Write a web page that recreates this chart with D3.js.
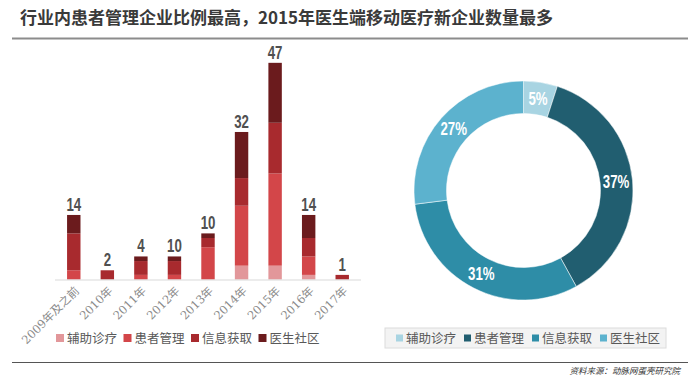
<!DOCTYPE html>
<html lang="zh">
  <head>
    <meta charset='utf-8'>
    <script src='https://d3js.org/d3.v7.min.js'></script>
    <title>移动医疗新企业</title>
    <style>
      body { margin: 0px; background: #fff; }
      svg { display: block; font-family: "Noto Sans CJK SC", sans-serif; }
      .title { fill: #3a3a3a; font-size: 17px; font-weight: bold; }
      .tick-label { fill: #8a8a8a; font-size: 11.5px; font-family: "DejaVu Serif", "Noto Sans CJK SC", serif; }
      .value-label { fill: #505050; font-size: 17px; font-weight: bold; font-family: "Liberation Sans", "DejaVu Sans", sans-serif; }
      .pct-label { fill: #fff; font-size: 17px; font-weight: bold; font-family: "Liberation Sans", "DejaVu Sans", sans-serif; }
      .legend text { fill: #595959; font-size: 12.5px; }
      .source { fill: #333; font-size: 8.5px; font-style: italic; }
    </style>
  </head>
  <body>
    <script>
      // data
      const years = ['2009年及之前', '2010年', '2011年', '2012年', '2013年', '2014年', '2015年', '2016年', '2017年'];
      const totals = [14, 2, 4, 10, 10, 32, 47, 14, 1];
      const categories = ['辅助诊疗', '患者管理', '信息获取', '医生社区'];
      const assist = [0, 0, 0, 0, 0, 3, 3, 1, 0];
      const patient = [2, 0, 1, 1, 7, 13, 20, 4, 0];
      const info = [8, 2, 3, 3, 2, 6, 11, 4, 1];
      const community = [4, 0, 1, 1, 1, 10, 13, 5, 0];
      const shares = [5, 37, 31, 27];

      const barColors = ['#e2979a', '#d34649', '#a82a2e', '#6b1b1d'];
      const donutColors = ['#a8d4e2', '#215e70', '#2e8da7', '#5cb2ce'];

      const width = 700, height = 381;
      const svg = d3.select('body').append('svg')
        .attr('width', width)
        .attr('height', height);

      // title and rules
      svg.append('text')
        .attr('class', 'title')
        .attr('x', 20)
        .attr('y', 24)
        .text('行业内患者管理企业比例最高，2015年医生端移动医疗新企业数量最多');

      svg.append('line')
        .attr('x1', 12).attr('x2', 688)
        .attr('y1', 38.5).attr('y2', 38.5)
        .attr('stroke', '#8c8c8c')
        .attr('stroke-width', 2);

      svg.append('line')
        .attr('x1', 12).attr('x2', 688)
        .attr('y1', 362.5).attr('y2', 362.5)
        .attr('stroke', '#555')
        .attr('stroke-width', 1.2);

      svg.append('text')
        .attr('class', 'source')
        .attr('x', 680)
        .attr('y', 374)
        .attr('text-anchor', 'end')
        .text('资料来源：动脉网蛋壳研究院');

      // ----- stacked bars -----
      const rows = years.map((y, i) => ({
        year: y,
        '辅助诊疗': assist[i],
        '患者管理': patient[i],
        '信息获取': info[i],
        '医生社区': community[i],
        total: totals[i]
      }));

      const x = d3.scaleBand()
        .domain(years)
        .range([57, 359])
        .paddingInner(0.6)
        .paddingOuter(0.3);

      const y = d3.scaleLinear()
        .domain([0, 50])
        .range([279.5, 49]);

      const stack = d3.stack().keys(categories)(rows);

      const g = svg.append('g');

      g.selectAll('g.layer')
        .data(stack)
        .join('g')
          .attr('class', 'layer')
          .attr('fill', (d, i) => barColors[i])
        .selectAll('rect')
        .data(d => d)
        .join('rect')
          .attr('x', d => x(d.data.year))
          .attr('width', x.bandwidth())
          .attr('y', d => y(d[1]))
          .attr('height', d => y(d[0]) - y(d[1]));

      g.append('line')
        .attr('x1', 55).attr('x2', 361)
        .attr('y1', y(0) + 0.5).attr('y2', y(0) + 0.5)
        .attr('stroke', '#d9d9d9');

      // value labels sit on top of the drawn stack (condensed look)
      g.selectAll('text.value-label')
        .data(rows)
        .join('text')
          .attr('class', 'value-label')
          .attr('transform', d => `translate(${x(d.year) + x.bandwidth() / 2},${y(d3.sum(categories, k => d[k])) - 4}) scale(0.78,1.05)`)
          .attr('text-anchor', 'middle')
          .text(d => d.total);

      g.selectAll('text.tick-label')
        .data(years)
        .join('text')
          .attr('class', 'tick-label')
          .attr('text-anchor', 'end')
          .attr('transform', d => `translate(${x(d) + x.bandwidth() / 2 + 6},${y(0) + 12}) rotate(-45)`)
          .text(d => d);

      // bar legend
      const barLegend = svg.append('g')
        .attr('class', 'legend')
        .attr('transform', 'translate(56,338)');

      const bl = barLegend.selectAll('g')
        .data(categories)
        .join('g')
          .attr('transform', (d, i) => `translate(${i * 67.5},0)`);
      bl.append('rect')
        .attr('x', 0).attr('y', -4)
        .attr('width', 8).attr('height', 8)
        .attr('fill', (d, i) => barColors[i]);
      bl.append('text')
        .attr('x', 11)
        .attr('y', 4.5)
        .text(d => d);

      // ----- donut -----
      const cx = 523.5, cy = 190.5;
      const outerR = 109.5, innerR = 77;

      const pie = d3.pie().sort(null).value(d => d);
      const arc = d3.arc().innerRadius(innerR).outerRadius(outerR);
      const labelArc = d3.arc().innerRadius(93).outerRadius(93);

      const dg = svg.append('g')
        .attr('transform', `translate(${cx},${cy})`);

      const arcs = pie(shares);

      dg.selectAll('path')
        .data(arcs)
        .join('path')
          .attr('d', arc)
          .attr('fill', (d, i) => donutColors[i])
          .attr('stroke', '#fff')
          .attr('stroke-width', 0.5);

      dg.selectAll('text')
        .data(arcs)
        .join('text')
          .attr('class', 'pct-label')
          .attr('transform', d => `translate(${labelArc.centroid(d)}) scale(0.78,1.05)`)
          .attr('text-anchor', 'middle')
          .attr('dy', '0.35em')
          .text(d => d.data + '%');

      // donut legend
      svg.append('rect')
        .attr('x', 385).attr('y', 328)
        .attr('width', 281).attr('height', 20)
        .attr('fill', '#f3f3f3')
        .attr('stroke', '#dcdcdc');

      const donutLegend = svg.append('g')
        .attr('class', 'legend')
        .attr('transform', 'translate(396,338)');

      const dl = donutLegend.selectAll('g')
        .data(categories)
        .join('g')
          .attr('transform', (d, i) => `translate(${i * 68},0)`);
      dl.append('rect')
        .attr('x', 0).attr('y', -3.5)
        .attr('width', 7).attr('height', 7)
        .attr('fill', (d, i) => donutColors[i]);
      dl.append('text')
        .attr('x', 10)
        .attr('y', 4.5)
        .text(d => d);
    </script>
  </body>
</html>
